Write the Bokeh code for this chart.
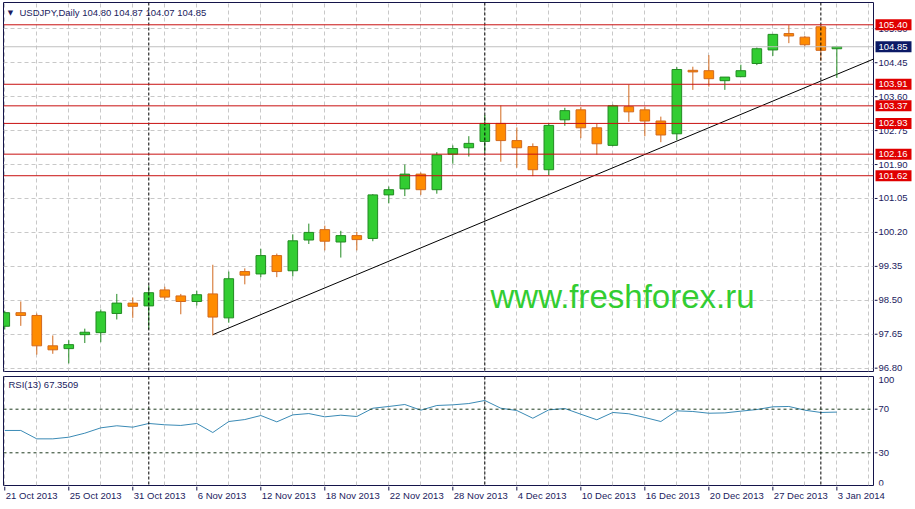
from bokeh.plotting import figure
from bokeh.layouts import column, row
from bokeh.models import Range1d, FixedTicker, Span, Label, ColumnDataSource
from bokeh.core.properties import value
from bokeh.embed import file_html
from bokeh.resources import INLINE

# ---------------- data ----------------
symbol = "USDJPY,Daily"
ohlc_last = "104.80 104.87 104.07 104.85"

dates = ["21 Oct 2013", "22 Oct 2013", "23 Oct 2013", "24 Oct 2013", "25 Oct 2013",
         "28 Oct 2013", "29 Oct 2013", "30 Oct 2013", "31 Oct 2013", "1 Nov 2013",
         "4 Nov 2013", "5 Nov 2013", "6 Nov 2013", "7 Nov 2013", "8 Nov 2013",
         "11 Nov 2013", "12 Nov 2013", "13 Nov 2013", "14 Nov 2013", "15 Nov 2013",
         "18 Nov 2013", "19 Nov 2013", "20 Nov 2013", "21 Nov 2013", "22 Nov 2013",
         "25 Nov 2013", "26 Nov 2013", "27 Nov 2013", "28 Nov 2013", "29 Nov 2013",
         "2 Dec 2013", "3 Dec 2013", "4 Dec 2013", "5 Dec 2013", "6 Dec 2013",
         "9 Dec 2013", "10 Dec 2013", "11 Dec 2013", "12 Dec 2013", "13 Dec 2013",
         "16 Dec 2013", "17 Dec 2013", "18 Dec 2013", "19 Dec 2013", "20 Dec 2013",
         "23 Dec 2013", "24 Dec 2013", "26 Dec 2013", "27 Dec 2013", "30 Dec 2013",
         "31 Dec 2013", "2 Jan 2014", "3 Jan 2014"]

opens = [97.85, 98.19, 98.12, 97.36, 97.29, 97.64, 97.69, 98.17, 98.43, 98.36,
         98.76, 98.61, 98.47, 98.66, 98.06, 99.22, 99.16, 99.62, 99.24, 100.01,
         100.27, 99.96, 100.12, 100.05, 101.14, 101.29, 101.66, 101.27, 102.16, 102.32,
         102.48, 102.93, 102.50, 102.35, 101.77, 103.02, 103.27, 102.82, 102.38, 103.35,
         103.27, 102.99, 102.67, 104.26, 104.25, 104.00, 104.10, 104.43, 104.77, 105.18,
         105.09, 105.35, 104.80]
highs = [98.24, 98.47, 98.17, 97.62, 97.50, 97.79, 98.27, 98.66, 98.57, 98.87,
         98.84, 98.66, 98.74, 99.39, 99.22, 99.30, 99.79, 99.67, 100.15, 100.42,
         100.37, 100.24, 100.21, 101.16, 101.35, 101.90, 101.70, 102.21, 102.38, 102.61,
         103.14, 103.38, 102.83, 102.43, 102.94, 103.32, 103.34, 102.92, 103.40, 103.90,
         103.35, 103.10, 104.34, 104.35, 104.64, 104.09, 104.40, 104.83, 105.17, 105.39,
         105.12, 105.40, 104.87]
lows = [97.77, 97.86, 97.14, 97.16, 96.92, 97.43, 97.45, 98.02, 98.06, 97.77,
        98.52, 98.15, 98.37, 97.62, 97.94, 98.90, 99.08, 99.08, 99.10, 99.91,
        99.75, 99.57, 99.75, 99.98, 100.93, 101.11, 101.14, 101.17, 101.92, 102.10,
        102.20, 101.97, 101.82, 101.61, 101.63, 102.87, 102.56, 102.15, 102.36, 102.97,
        102.61, 102.46, 102.51, 103.77, 103.85, 103.77, 104.10, 104.39, 104.62, 104.94,
        104.85, 104.50, 104.07]
closes = [98.19, 98.12, 97.36, 97.26, 97.39, 97.70, 98.21, 98.43, 98.35, 98.69,
          98.58, 98.47, 98.64, 98.08, 99.04, 99.13, 99.62, 99.22, 99.99, 100.20,
          99.98, 100.12, 100.02, 101.14, 101.27, 101.66, 101.27, 102.14, 102.30, 102.43,
          102.93, 102.50, 102.32, 101.77, 102.88, 103.25, 102.82, 102.42, 103.37, 103.22,
          102.99, 102.64, 104.28, 104.22, 104.05, 104.09, 104.25, 104.80, 105.16, 105.12,
          104.90, 104.76, 104.85]

rsi_period = 13
rsi = [50.5, 50.5, 42.8, 42.8, 44.3, 48.0, 52.9, 54.8, 53.5, 56.9,
       55.7, 55.1, 56.9, 48.6, 58.7, 60.5, 64.2, 58.4, 64.8, 66.0,
       63.0, 64.5, 63.3, 70.9, 72.5, 74.3, 69.1, 73.4, 74.0, 75.2,
       78.0, 70.9, 68.8, 61.7, 69.4, 70.6, 65.4, 60.3, 67.0, 65.8,
       62.4, 58.7, 68.5, 67.9, 66.3, 66.6, 68.2, 69.7, 72.2, 72.5,
       69.1, 67.0, 67.3509]

levels = [105.40, 103.91, 103.37, 102.93, 102.16, 101.62]
bid = 104.85
price_ticks = [96.80, 97.65, 98.50, 99.35, 100.20, 101.05, 101.90, 102.75,
               103.60, 104.45, 105.30]
rsi_levels = [70, 30]
rsi_top, rsi_bottom = 100, 0
trend_x = [13, 55]
trend_y = [97.64, 104.66]
watermark = "www.freshforex.ru"

# ---------------- style ----------------
FONT = value("Liberation Sans")
FS = "9.5px"
NAVY = "#1b1b5e"
FRAME = "#14144a"
GRID = "#c8c8c8"
BULL_FILL, BULL_LINE = "#32CD32", "#228B22"
BEAR_FILL, BEAR_LINE = "#FF8C00", "#D2691E"
LEVEL_LINE, LEVEL_BOX, BID_BOX = "#c81010", "#e00000", "#0c1a66"

n = len(dates)
idx = list(range(n))
xr = Range1d(-0.08, 54.29)          # main/RSI frames: 870 px wide
px_per_bar = 870 / (xr.end - xr.start)

src = ColumnDataSource(dict(
    x=idx, o=opens, h=highs, l=lows, c=closes,
    top=[max(a, b) for a, b in zip(opens, closes)],
    bot=[min(a, b) for a, b in zip(opens, closes)],
    fill=[BULL_FILL if c >= o else BEAR_FILL for o, c in zip(opens, closes)],
    line=[BULL_LINE if c >= o else BEAR_LINE for o, c in zip(opens, closes)],
))

months = [d.split()[1] for d in dates]
separators = [i for i in range(1, n) if months[i] != months[i - 1]]
label_idx = list(range(0, n, 4))
grid_idx = list(range(0, 56, 2))


def bare(fig):
    fig.background_fill_color = "white"
    fig.border_fill_color = "white"
    fig.outline_line_color = None
    for g in fig.grid:
        g.grid_line_color = None


def framed(fig):
    fig.background_fill_color = "white"
    fig.border_fill_color = "white"
    fig.outline_line_color = FRAME
    fig.xgrid.ticker = FixedTicker(ticks=grid_idx)
    fig.xgrid.grid_line_color = GRID
    fig.xgrid.grid_line_dash = "4 3"
    for s in separators:
        fig.add_layout(Span(location=s, dimension="height", line_color="black",
                            line_dash="3 2", line_width=1))


# ---------------- main price panel ----------------
p = figure(width=874, height=373, x_range=xr, y_range=Range1d(96.717, 105.958),
           output_backend="svg", toolbar_location=None,
           x_axis_location=None, y_axis_location=None,
           min_border_left=3, min_border_right=1, min_border_top=2, min_border_bottom=2)
framed(p)
p.ygrid.ticker = FixedTicker(ticks=price_ticks)
p.ygrid.grid_line_color = GRID
p.ygrid.grid_line_dash = "4 3"

p.add_layout(Span(location=bid, dimension="width", line_color="#c0c0c0", line_width=1))
for lv in levels:
    p.add_layout(Span(location=lv, dimension="width", line_color=LEVEL_LINE, line_width=1))

p.line(trend_x, trend_y, line_color="black", line_width=1)
p.segment(x0="x", y0="l", x1="x", y1="h", line_color="line", line_width=1, source=src)
p.vbar(x="x", width=0.6, top="top", bottom="bot", fill_color="fill",
       line_color="line", line_width=1, source=src)

p.add_layout(Label(x=7, y=359, x_units="screen", y_units="screen", text="\u25BC",
                   text_font="DejaVu Sans", text_font_size="7px", text_color=NAVY,
                   text_align="center", text_baseline="middle"))
p.add_layout(Label(x=16, y=359, x_units="screen", y_units="screen",
                   text=f"{symbol}  {ohlc_last}", text_font="Liberation Sans",
                   text_font_size=FS, text_color=NAVY, text_align="left",
                   text_baseline="middle"))
p.add_layout(Label(x=487, y=75, x_units="screen", y_units="screen", text=watermark,
                   text_font="Liberation Sans", text_font_size="33px",
                   text_color="#32CD32", text_align="left", text_baseline="alphabetic"))

# price scale strip (right of the main panel)
ps = figure(width=41, height=373, x_range=Range1d(0, 41), y_range=p.y_range,
            output_backend="svg", toolbar_location=None,
            x_axis_location=None, y_axis_location=None,
            min_border_left=0, min_border_right=0, min_border_top=2, min_border_bottom=2)
bare(ps)
ps.segment(x0=0, x1=3, y0=price_ticks, y1=price_ticks, line_color=FRAME, line_width=1)
ps.text(x=4, y=price_ticks, text=[f"{t:.2f}" for t in price_ticks], text_font=FONT,
        text_font_size=FS, text_color=NAVY, text_align="left", text_baseline="middle")
ps.rect(x=19, y=levels, width=36, height=11, height_units="screen",
        fill_color=LEVEL_BOX, line_color=None)
ps.text(x=4, y=levels, text=[f"{lv:.2f}" for lv in levels], text_font=FONT,
        text_font_size=FS, text_color="white", text_align="left", text_baseline="middle")
ps.rect(x=19, y=[bid], width=36, height=11, height_units="screen",
        fill_color=BID_BOX, line_color=None)
ps.text(x=4, y=[bid], text=[f"{bid:.2f}"], text_font=FONT,
        text_font_size=FS, text_color="white", text_align="left", text_baseline="middle")

# ---------------- RSI panel ----------------
r = figure(width=874, height=113, x_range=xr, y_range=Range1d(rsi_bottom, rsi_top),
           output_backend="svg", toolbar_location=None,
           x_axis_location=None, y_axis_location=None,
           min_border_left=3, min_border_right=1, min_border_top=3, min_border_bottom=1)
framed(r)
r.ygrid.grid_line_color = None
for lv in rsi_levels:
    r.add_layout(Span(location=lv, dimension="width", line_color="#1e3a1e",
                      line_dash="3 3", line_width=1))
r.line(idx, rsi, line_color="#3a8ab5", line_width=1)
r.add_layout(Label(x=5, y=101, x_units="screen", y_units="screen",
                   text=f"RSI({rsi_period}) {rsi[-1]:.4f}", text_font="Liberation Sans",
                   text_font_size=FS, text_color=NAVY, text_align="left",
                   text_baseline="middle"))

rs = figure(width=41, height=113, x_range=Range1d(0, 41), y_range=r.y_range,
            output_backend="svg", toolbar_location=None,
            x_axis_location=None, y_axis_location=None,
            min_border_left=0, min_border_right=0, min_border_top=3, min_border_bottom=1)
bare(rs)
rs.segment(x0=0, x1=3, y0=rsi_levels, y1=rsi_levels, line_color=FRAME, line_width=1)
rs.text(x=4, y=rsi_levels, text=[str(v) for v in rsi_levels], text_font=FONT,
        text_font_size=FS, text_color=NAVY, text_align="left", text_baseline="middle")
rs.text(x=4, y=[rsi_top], text=[str(rsi_top)], text_font=FONT, text_font_size=FS,
        text_color=NAVY, text_align="left", text_baseline="top")
rs.text(x=4, y=[rsi_bottom], text=[str(rsi_bottom)], text_font=FONT, text_font_size=FS,
        text_color=NAVY, text_align="left", text_baseline="bottom")

# ---------------- time scale strip ----------------
ds = figure(width=915, height=23,
            x_range=Range1d(xr.start, xr.start + 912 / px_per_bar), y_range=Range1d(0, 23),
            output_backend="svg", toolbar_location=None,
            x_axis_location=None, y_axis_location=None,
            min_border_left=3, min_border_right=0, min_border_top=0, min_border_bottom=0)
bare(ds)
ds.segment(x0=label_idx, x1=label_idx, y0=23, y1=19, line_color=FRAME, line_width=1)
ds.text(x=label_idx, y=14, text=[dates[i] for i in label_idx], x_offset=1,
        text_font=FONT, text_font_size=FS, text_color=NAVY,
        text_align="left", text_baseline="middle")

layout = column(row(p, ps, spacing=0), row(r, rs, spacing=0), ds, spacing=0)
open("out.html", "w").write(file_html(layout, INLINE))
